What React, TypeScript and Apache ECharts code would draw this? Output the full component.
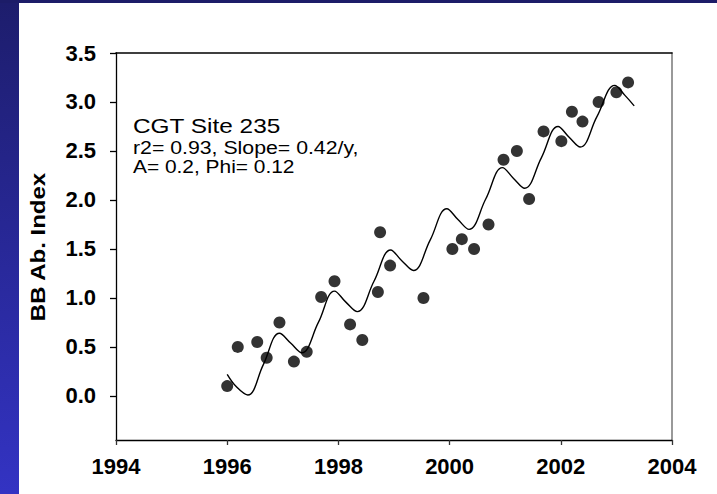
import React, { useEffect, useRef } from "react";
import * as echarts from "echarts";

const xTicks = [1994, 1996, 1998, 2000, 2002, 2004];
const yTicks = [0, 0.5, 1, 1.5, 2, 2.5, 3, 3.5];

const scatterYears = [1996.0, 1996.19, 1996.54, 1996.71, 1996.94, 1997.2, 1997.43, 1997.69, 1997.93, 1998.21, 1998.43, 1998.71, 1998.75, 1998.93, 1999.53, 2000.05, 2000.22, 2000.44, 2000.7, 2000.97, 2001.21, 2001.43, 2001.69, 2002.01, 2002.2, 2002.39, 2002.68, 2003.0, 2003.21];
const scatterValues = [0.10, 0.50, 0.55, 0.39, 0.75, 0.35, 0.45, 1.01, 1.17, 0.73, 0.57, 1.06, 1.67, 1.33, 1.00, 1.50, 1.60, 1.50, 1.75, 2.41, 2.50, 2.01, 2.70, 2.60, 2.90, 2.80, 3.00, 3.10, 3.20];

const curveYears = [1996.0, 1996.17, 1996.37, 1996.65, 1996.94, 1997.14, 1997.34, 1997.64, 1997.93, 1998.13, 1998.34, 1998.64, 1998.94, 1999.14, 1999.35, 1999.65, 1999.95, 2000.15, 2000.35, 2000.65, 2000.95, 2001.15, 2001.35, 2001.65, 2001.95, 2002.15, 2002.35, 2002.65, 2002.97, 2003.15, 2003.32];
const curveValues = [0.22, 0.09, 0.01, 0.32, 0.64, 0.54, 0.44, 0.75, 1.07, 0.96, 0.86, 1.17, 1.49, 1.38, 1.28, 1.59, 1.91, 1.80, 1.70, 2.01, 2.33, 2.22, 2.12, 2.43, 2.75, 2.64, 2.54, 2.85, 3.17, 3.07, 2.96];

const annotation = ["CGT Site 235", "r2= 0.93, Slope= 0.42/y,", "A= 0.2, Phi= 0.12"];
const yTitle = "BB Ab. Index";

const FONT = "Arial, 'Liberation Sans', Helvetica, sans-serif";

export default function App() {
  const ref = useRef<HTMLDivElement>(null);
  useEffect(() => {
    const chart = echarts.init(ref.current!, null, { renderer: "svg" });
    chart.setOption({
      animation: false,
      backgroundColor: "#ffffff",
      grid: {
        left: 116,
        top: 53,
        right: 45,
        bottom: 54,
        containLabel: false,
      },
      xAxis: [
        {
          type: "value",
          min: 1994,
          max: 2004,
          interval: 2,
          axisLine: { show: true, onZero: false, lineStyle: { color: "#000", width: 1.3 } },
          axisTick: { show: true, length: 5, inside: false, lineStyle: { color: "#333", width: 1.3 } },
          axisLabel: { show: true, margin: 15, fontSize: 22, fontWeight: "bold", fontFamily: FONT, color: "#000", formatter: (v: number) => String(v) },
          splitLine: { show: false },
        },
        {
          type: "value",
          gridIndex: 0,
          position: "top",
          min: 1994,
          max: 2004,
          interval: 2,
          show: true,
          axisLine: { show: true, onZero: false, lineStyle: { color: "#000", width: 1.6 } },
          axisTick: { show: false },
          axisLabel: { show: false },
          splitLine: { show: false },
        },
      ],
      yAxis: [
        {
          type: "value",
          min: -0.45,
          max: 3.5,
          axisLine: { show: true, onZero: false, lineStyle: { color: "#000", width: 1.3 } },
          axisTick: { show: true, length: 6, inside: false, customValues: yTicks, lineStyle: { color: "#000", width: 1.3 } },
          axisLabel: {
            show: true,
            margin: 20,
            customValues: yTicks,
            fontSize: 22,
            fontWeight: "bold",
            fontFamily: FONT,
            color: "#000",
            formatter: (v: number) => v.toFixed(1),
          },
          splitLine: { show: false },
        },
        {
          type: "value",
          position: "right",
          min: -0.45,
          max: 3.5,
          axisLine: { show: true, onZero: false, lineStyle: { color: "#777", width: 1.5 } },
          axisTick: { show: false },
          axisLabel: { show: false },
          splitLine: { show: false },
        },
      ],
      series: [
        {
          type: "line",
          xAxisIndex: 0,
          yAxisIndex: 0,
          data: curveYears.map((x, i) => [x, curveValues[i]]),
          showSymbol: false,
          smooth: 0.4,
          lineStyle: { color: "#000", width: 1.4 },
          z: 2,
        },
        {
          type: "scatter",
          xAxisIndex: 0,
          yAxisIndex: 0,
          data: scatterYears.map((x, i) => [x, scatterValues[i]]),
          symbol: "circle",
          symbolSize: 12,
          itemStyle: { color: "#000" },
          z: 3,
        },
        {
          type: "line",
          xAxisIndex: 1,
          yAxisIndex: 1,
          data: [],
        },
      ],
      graphic: [
        {
          type: "rect",
          left: 0,
          top: 0,
          shape: { x: 0, y: 0, width: 19, height: 494 },
          style: {
            fill: new echarts.graphic.LinearGradient(0, 0, 0, 1, [
              { offset: 0, color: "#1d1d6c" },
              { offset: 1, color: "#3333c3" },
            ]),
          },
          z: 10,
        },
        {
          type: "rect",
          left: 0,
          top: 0,
          shape: { x: 0, y: 0, width: 717, height: 3 },
          style: { fill: "#1c1c68" },
          z: 10,
        },
        {
          type: "text",
          x: 133,
          y: 126,
          scaleX: 1.22,
          style: { text: annotation[0], font: `20px ${FONT}`, fill: "#000", verticalAlign: "middle", align: "left" },
          z: 10,
        },
        {
          type: "text",
          x: 133,
          y: 147.5,
          scaleX: 1.12,
          style: { text: annotation[1], font: `19px ${FONT}`, fill: "#000", verticalAlign: "middle", align: "left" },
          z: 10,
        },
        {
          type: "text",
          x: 133,
          y: 166,
          scaleX: 1.1,
          style: { text: annotation[2], font: `19px ${FONT}`, fill: "#000", verticalAlign: "middle", align: "left" },
          z: 10,
        },
        {
          type: "text",
          x: 38,
          y: 247,
          rotation: Math.PI / 2,
          scaleX: 1.2,
          style: { text: yTitle, font: `bold 20px ${FONT}`, fill: "#000", verticalAlign: "middle", align: "center" },
          z: 10,
        },
      ],
    });
    return () => chart.dispose();
  }, []);
  return (
    <div
      ref={ref}
      style={{ position: "fixed", left: 0, top: 0, width: 717, height: 494, background: "#fff" }}
    />
  );
}
